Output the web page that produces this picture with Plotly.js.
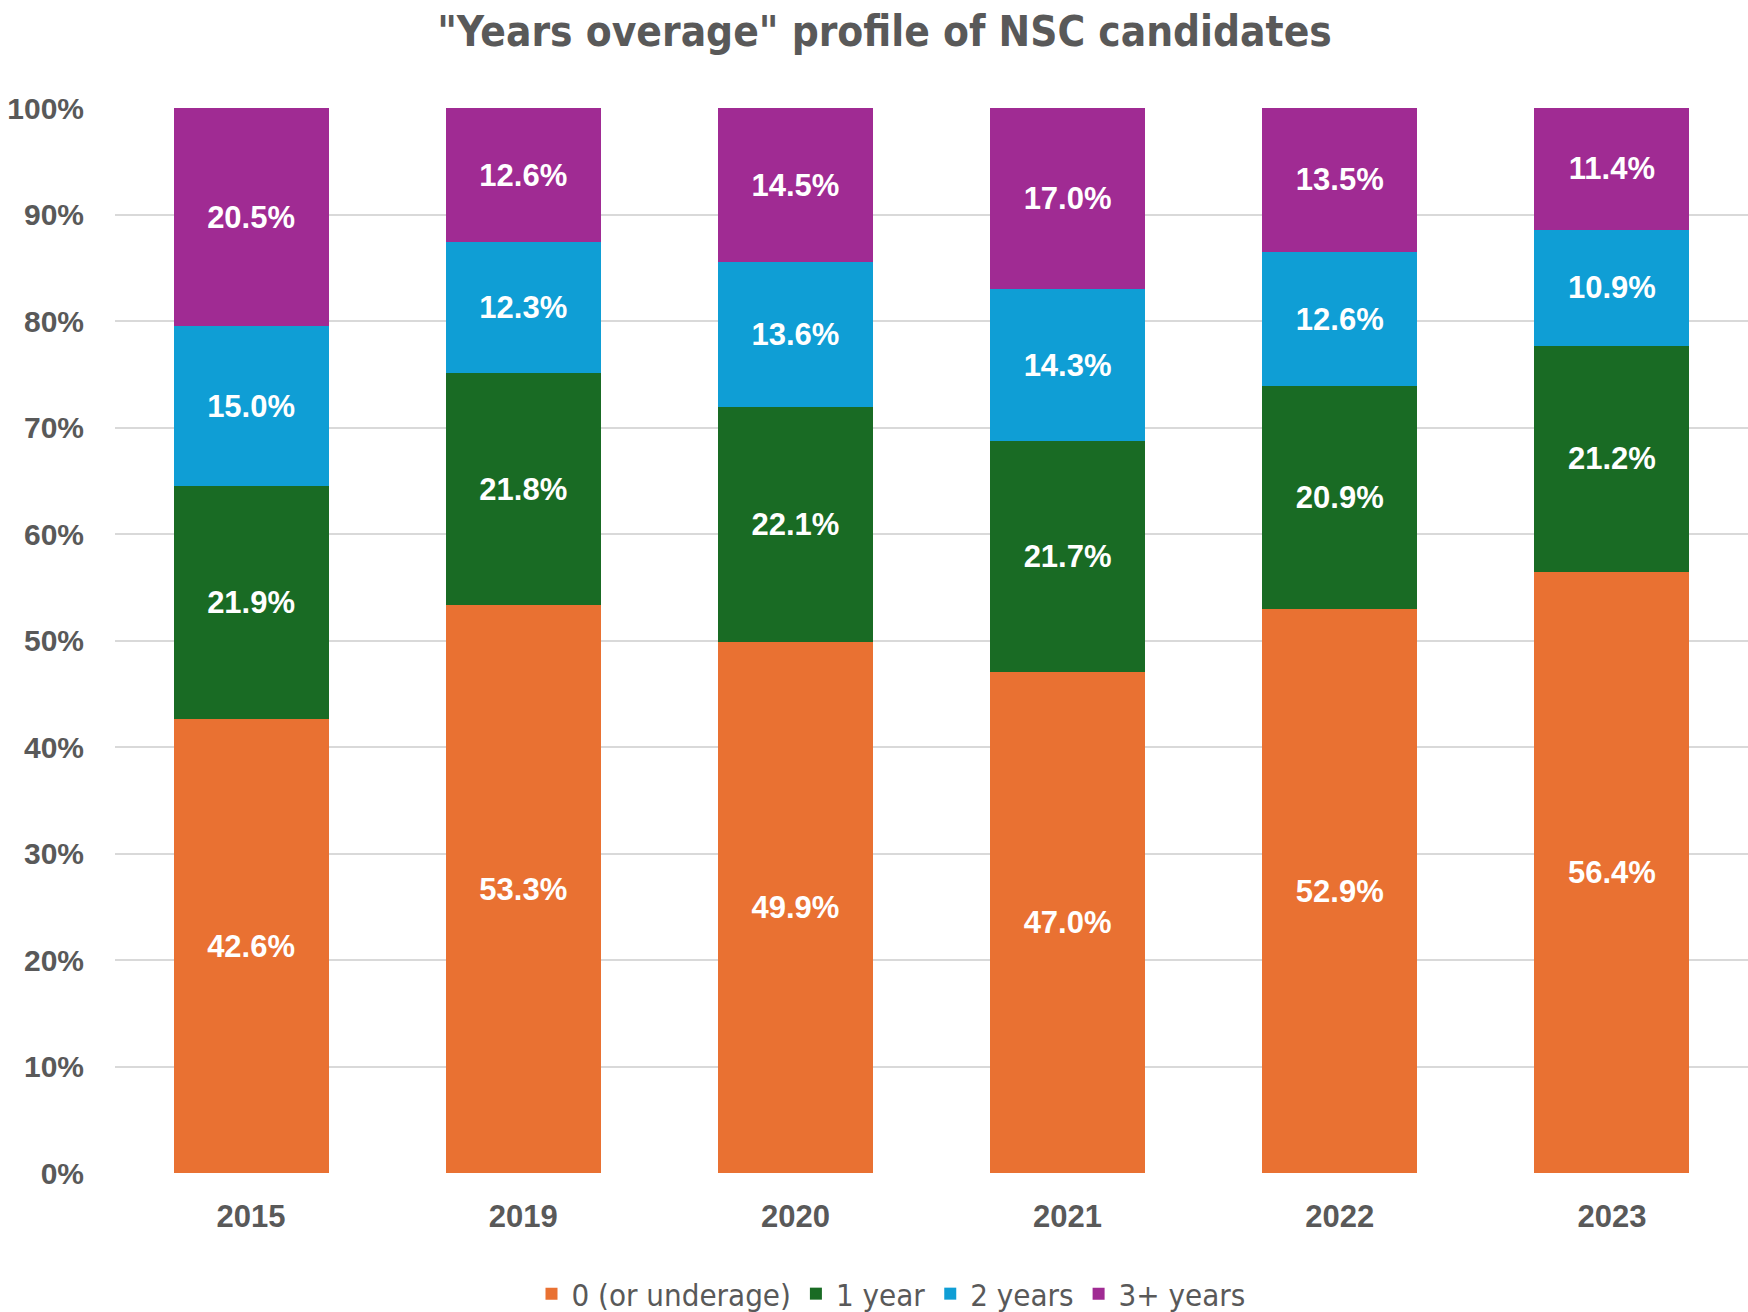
<!DOCTYPE html>
<html>
<head>
<meta charset="utf-8">
<script src="https://cdn.plot.ly/plotly-3.0.1.min.js"></script>
<style>html,body{margin:0;padding:0;background:#fff;}#chart{width:1748px;height:1312px;}</style>
</head>
<body>
<div id="chart"></div>
<script>
const years = ["2015", "2019", "2020", "2021", "2022", "2023"];
const seriesNames = ["0 (or underage)", "1 year", "2 years", "3+ years"];
const underage = [42.6, 53.3, 49.9, 47.0, 52.9, 56.4];
const oneYear = [21.9, 21.8, 22.1, 21.7, 20.9, 21.2];
const twoYears = [15.0, 12.3, 13.6, 14.3, 12.6, 10.9];
const threePlus = [20.5, 12.6, 14.5, 17.0, 13.5, 11.4];
const yTicks = [0, 10, 20, 30, 40, 50, 60, 70, 80, 90, 100];

const colors = ["#E97132", "#196B24", "#0F9ED5", "#A02B93"];
const allSeries = [underage, oneYear, twoYears, threePlus];
const narrow = "Liberation Sans Narrow, DejaVu Sans Condensed, Arial Narrow, Roboto, sans-serif";
const sans = "Liberation Sans, Arial, sans-serif";

const traces = allSeries.map((vals, i) => ({
  type: "bar",
  name: seriesNames[i],
  x: years,
  y: vals,
  text: vals.map(v => v.toFixed(1) + "%"),
  textposition: "inside",
  insidetextanchor: "middle",
  textangle: 0,
  constraintext: "none",
  textfont: {family: sans, size: 31, color: "#ffffff", weight: 700},
  marker: {color: colors[i], line: {width: 0}},
  hoverinfo: "skip"
}));

const layout = {
  width: 1748,
  height: 1312,
  barmode: "stack",
  barnorm: "percent",
  bargap: 0.43,
  paper_bgcolor: "#ffffff",
  plot_bgcolor: "#ffffff",
  margin: {l: 115, r: 0, t: 108, b: 139, autoexpand: false},
  title: {
    text: "\"Years overage\" profile of NSC candidates",
    font: {family: narrow, size: 42, color: "#595959", weight: 700},
    x: 0.506, xref: "container", xanchor: "center",
    y: 1 - 31 / 1312, yref: "container", yanchor: "middle"
  },
  xaxis: {
    type: "category",
    showgrid: false,
    zeroline: false,
    showline: false,
    tickfont: {family: sans, size: 31, color: "#595959", weight: 700},
    ticks: "",
    ticklabelstandoff: 22
  },
  yaxis: {
    range: [0, 100],
    tickvals: yTicks,
    ticktext: yTicks.map(v => v + "%"),
    showgrid: true,
    gridcolor: "#d9d9d9",
    gridwidth: 2,
    zeroline: false,
    showline: false,
    ticks: "",
    tickfont: {family: sans, size: 30, color: "#595959", weight: 700},
    ticklabelstandoff: 30
  },
  showlegend: true,
  legend: {
    orientation: "h",
    x: 891 / 1748, xref: "container", xanchor: "center",
    y: 1 - 1294 / 1312, yref: "container", yanchor: "middle",
    font: {family: narrow, size: 31, color: "#595959"},
    traceorder: "normal",
    itemwidth: 30
  }
};

Plotly.newPlot("chart", traces, layout, {displayModeBar: false, staticPlot: true});
</script>
</body>
</html>
